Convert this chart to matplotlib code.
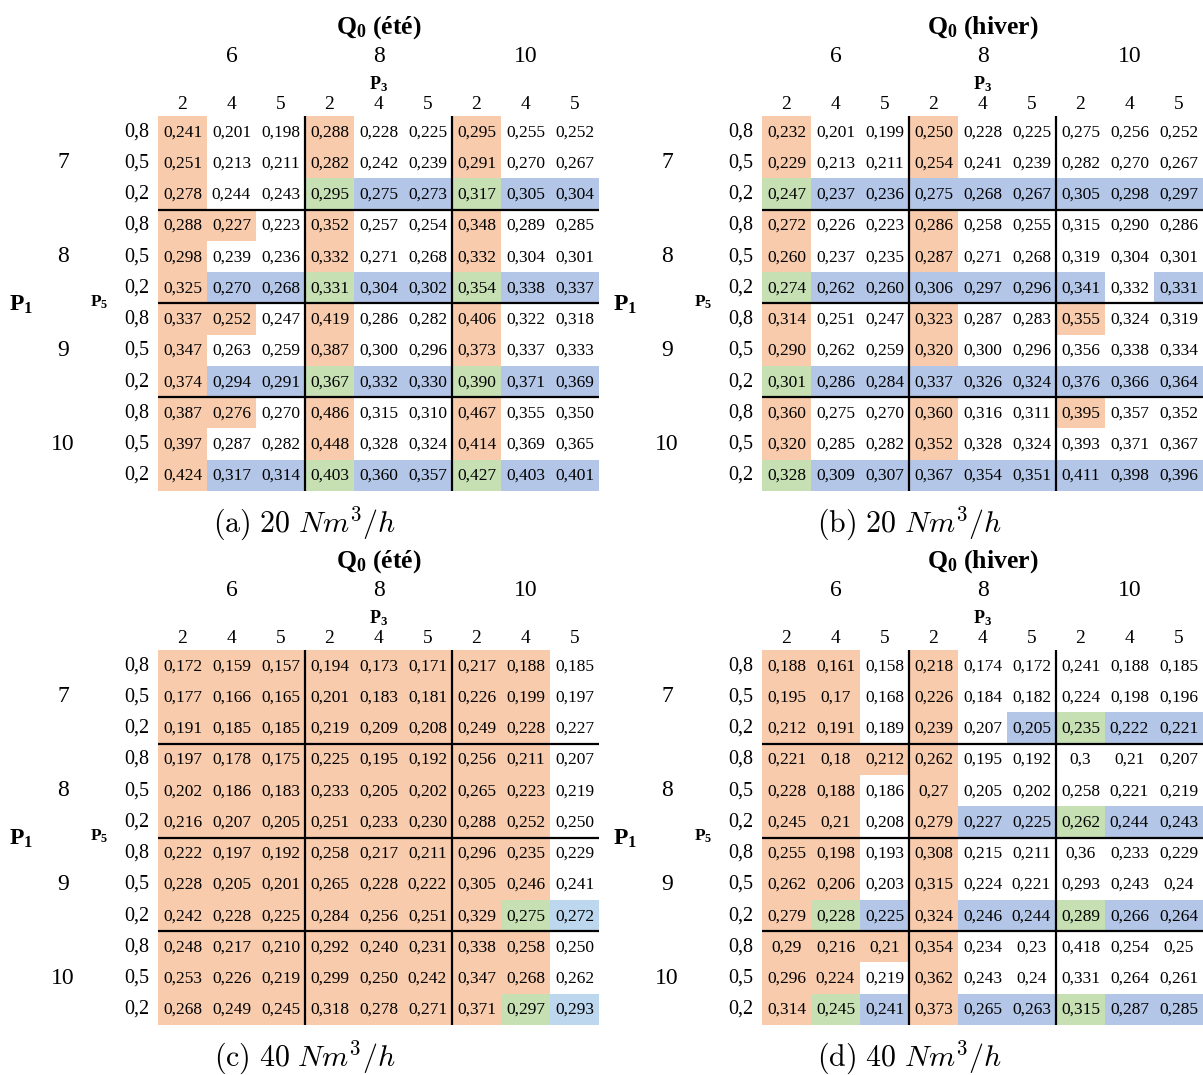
import matplotlib.pyplot as plt
from matplotlib.colors import ListedColormap

plt.rcParams['font.family'] = 'Liberation Serif'
plt.rcParams['mathtext.fontset'] = 'custom'
plt.rcParams['mathtext.rm'] = 'Liberation Serif:bold'
plt.rcParams['mathtext.it'] = 'Liberation Serif:italic:bold'
plt.rcParams['mathtext.bf'] = 'Liberation Serif:bold'

# table headers
q0_levels = ['6', '8', '10']
p3_levels = ['2', '4', '5', '2', '4', '5', '2', '4', '5']
p5_levels = ['0,8', '0,5', '0,2']
p1_levels = ['7', '8', '9', '10']

# cell values, rows = P1 x P5, cols = Q0 x P3
vals_a = [
    [0.241, 0.201, 0.198, 0.288, 0.228, 0.225, 0.295, 0.255, 0.252],
    [0.251, 0.213, 0.211, 0.282, 0.242, 0.239, 0.291, 0.270, 0.267],
    [0.278, 0.244, 0.243, 0.295, 0.275, 0.273, 0.317, 0.305, 0.304],
    [0.288, 0.227, 0.223, 0.352, 0.257, 0.254, 0.348, 0.289, 0.285],
    [0.298, 0.239, 0.236, 0.332, 0.271, 0.268, 0.332, 0.304, 0.301],
    [0.325, 0.270, 0.268, 0.331, 0.304, 0.302, 0.354, 0.338, 0.337],
    [0.337, 0.252, 0.247, 0.419, 0.286, 0.282, 0.406, 0.322, 0.318],
    [0.347, 0.263, 0.259, 0.387, 0.300, 0.296, 0.373, 0.337, 0.333],
    [0.374, 0.294, 0.291, 0.367, 0.332, 0.330, 0.390, 0.371, 0.369],
    [0.387, 0.276, 0.270, 0.486, 0.315, 0.310, 0.467, 0.355, 0.350],
    [0.397, 0.287, 0.282, 0.448, 0.328, 0.324, 0.414, 0.369, 0.365],
    [0.424, 0.317, 0.314, 0.403, 0.360, 0.357, 0.427, 0.403, 0.401],
]
vals_b = [
    [0.232, 0.201, 0.199, 0.250, 0.228, 0.225, 0.275, 0.256, 0.252],
    [0.229, 0.213, 0.211, 0.254, 0.241, 0.239, 0.282, 0.270, 0.267],
    [0.247, 0.237, 0.236, 0.275, 0.268, 0.267, 0.305, 0.298, 0.297],
    [0.272, 0.226, 0.223, 0.286, 0.258, 0.255, 0.315, 0.290, 0.286],
    [0.260, 0.237, 0.235, 0.287, 0.271, 0.268, 0.319, 0.304, 0.301],
    [0.274, 0.262, 0.260, 0.306, 0.297, 0.296, 0.341, 0.332, 0.331],
    [0.314, 0.251, 0.247, 0.323, 0.287, 0.283, 0.355, 0.324, 0.319],
    [0.290, 0.262, 0.259, 0.320, 0.300, 0.296, 0.356, 0.338, 0.334],
    [0.301, 0.286, 0.284, 0.337, 0.326, 0.324, 0.376, 0.366, 0.364],
    [0.360, 0.275, 0.270, 0.360, 0.316, 0.311, 0.395, 0.357, 0.352],
    [0.320, 0.285, 0.282, 0.352, 0.328, 0.324, 0.393, 0.371, 0.367],
    [0.328, 0.309, 0.307, 0.367, 0.354, 0.351, 0.411, 0.398, 0.396],
]
vals_c = [
    [0.172, 0.159, 0.157, 0.194, 0.173, 0.171, 0.217, 0.188, 0.185],
    [0.177, 0.166, 0.165, 0.201, 0.183, 0.181, 0.226, 0.199, 0.197],
    [0.191, 0.185, 0.185, 0.219, 0.209, 0.208, 0.249, 0.228, 0.227],
    [0.197, 0.178, 0.175, 0.225, 0.195, 0.192, 0.256, 0.211, 0.207],
    [0.202, 0.186, 0.183, 0.233, 0.205, 0.202, 0.265, 0.223, 0.219],
    [0.216, 0.207, 0.205, 0.251, 0.233, 0.230, 0.288, 0.252, 0.250],
    [0.222, 0.197, 0.192, 0.258, 0.217, 0.211, 0.296, 0.235, 0.229],
    [0.228, 0.205, 0.201, 0.265, 0.228, 0.222, 0.305, 0.246, 0.241],
    [0.242, 0.228, 0.225, 0.284, 0.256, 0.251, 0.329, 0.275, 0.272],
    [0.248, 0.217, 0.210, 0.292, 0.240, 0.231, 0.338, 0.258, 0.250],
    [0.253, 0.226, 0.219, 0.299, 0.250, 0.242, 0.347, 0.268, 0.262],
    [0.268, 0.249, 0.245, 0.318, 0.278, 0.271, 0.371, 0.297, 0.293],
]
vals_d = [
    [0.188, 0.161, 0.158, 0.218, 0.174, 0.172, 0.241, 0.188, 0.185],
    [0.195, 0.17, 0.168, 0.226, 0.184, 0.182, 0.224, 0.198, 0.196],
    [0.212, 0.191, 0.189, 0.239, 0.207, 0.205, 0.235, 0.222, 0.221],
    [0.221, 0.18, 0.212, 0.262, 0.195, 0.192, 0.3, 0.21, 0.207],
    [0.228, 0.188, 0.186, 0.27, 0.205, 0.202, 0.258, 0.221, 0.219],
    [0.245, 0.21, 0.208, 0.279, 0.227, 0.225, 0.262, 0.244, 0.243],
    [0.255, 0.198, 0.193, 0.308, 0.215, 0.211, 0.36, 0.233, 0.229],
    [0.262, 0.206, 0.203, 0.315, 0.224, 0.221, 0.293, 0.243, 0.24],
    [0.279, 0.228, 0.225, 0.324, 0.246, 0.244, 0.289, 0.266, 0.264],
    [0.29, 0.216, 0.21, 0.354, 0.234, 0.23, 0.418, 0.254, 0.25],
    [0.296, 0.224, 0.219, 0.362, 0.243, 0.24, 0.331, 0.264, 0.261],
    [0.314, 0.245, 0.241, 0.373, 0.265, 0.263, 0.315, 0.287, 0.285],
]

# highlight class: 0 none, 1 orange, 2 blue, 3 green, 4 light blue
cls_a = [
    [1, 0, 0, 1, 0, 0, 1, 0, 0],
    [1, 0, 0, 1, 0, 0, 1, 0, 0],
    [1, 0, 0, 3, 2, 2, 3, 2, 2],
    [1, 1, 0, 1, 0, 0, 1, 0, 0],
    [1, 0, 0, 1, 0, 0, 1, 0, 0],
    [1, 2, 2, 3, 2, 2, 3, 2, 2],
    [1, 1, 0, 1, 0, 0, 1, 0, 0],
    [1, 0, 0, 1, 0, 0, 1, 0, 0],
    [1, 2, 2, 3, 2, 2, 3, 2, 2],
    [1, 1, 0, 1, 0, 0, 1, 0, 0],
    [1, 0, 0, 1, 0, 0, 1, 0, 0],
    [1, 2, 2, 3, 2, 2, 3, 2, 2],
]
cls_b = [
    [1, 0, 0, 1, 0, 0, 0, 0, 0],
    [1, 0, 0, 1, 0, 0, 0, 0, 0],
    [3, 2, 2, 2, 2, 2, 2, 2, 2],
    [1, 0, 0, 1, 0, 0, 0, 0, 0],
    [1, 0, 0, 1, 0, 0, 0, 0, 0],
    [3, 2, 2, 2, 2, 2, 2, 0, 2],
    [1, 0, 0, 1, 0, 0, 1, 0, 0],
    [1, 0, 0, 1, 0, 0, 0, 0, 0],
    [3, 2, 2, 2, 2, 2, 2, 2, 2],
    [1, 0, 0, 1, 0, 0, 1, 0, 0],
    [1, 0, 0, 1, 0, 0, 0, 0, 0],
    [3, 2, 2, 2, 2, 2, 2, 2, 2],
]
cls_c = [
    [1, 1, 1, 1, 1, 1, 1, 1, 0],
    [1, 1, 1, 1, 1, 1, 1, 1, 0],
    [1, 1, 1, 1, 1, 1, 1, 1, 0],
    [1, 1, 1, 1, 1, 1, 1, 1, 0],
    [1, 1, 1, 1, 1, 1, 1, 1, 0],
    [1, 1, 1, 1, 1, 1, 1, 1, 0],
    [1, 1, 1, 1, 1, 1, 1, 1, 0],
    [1, 1, 1, 1, 1, 1, 1, 1, 0],
    [1, 1, 1, 1, 1, 1, 1, 3, 4],
    [1, 1, 1, 1, 1, 1, 1, 1, 0],
    [1, 1, 1, 1, 1, 1, 1, 1, 0],
    [1, 1, 1, 1, 1, 1, 1, 3, 4],
]
cls_d = [
    [1, 1, 0, 1, 0, 0, 0, 0, 0],
    [1, 1, 0, 1, 0, 0, 0, 0, 0],
    [1, 1, 0, 1, 0, 2, 3, 2, 2],
    [1, 1, 1, 1, 0, 0, 0, 0, 0],
    [1, 1, 0, 1, 0, 0, 0, 0, 0],
    [1, 1, 0, 1, 2, 2, 3, 2, 2],
    [1, 1, 0, 1, 0, 0, 0, 0, 0],
    [1, 1, 0, 1, 0, 0, 0, 0, 0],
    [1, 3, 2, 1, 2, 2, 3, 2, 2],
    [1, 1, 1, 1, 0, 0, 0, 0, 0],
    [1, 1, 0, 1, 0, 0, 0, 0, 0],
    [1, 3, 2, 1, 2, 2, 3, 2, 2],
]

fills = ListedColormap(['white', '#F8CBAD', '#B4C6E7', '#C6E0B4', '#BDD7EE'])

W, H = 1203, 1075
fig = plt.figure(figsize=(W / 100, H / 100), dpi=100)

panels = [
    (vals_a, cls_a, 'été', r'$\mathrm{(a)\ 20}\ Nm^3/h$', '{:.3f}', 158, 116),
    (vals_b, cls_b, 'hiver', r'$\mathrm{(b)\ 20}\ Nm^3/h$', '{:.3f}', 762, 116),
    (vals_c, cls_c, 'été', r'$\mathrm{(c)\ 40}\ Nm^3/h$', '{:.3f}', 158, 650),
    (vals_d, cls_d, 'hiver', r'$\mathrm{(d)\ 40}\ Nm^3/h$', '{:g}', 762, 650),
]

for vals, cls, season, caption, fmt, left, top in panels:
    ax = fig.add_axes([left / W, 1 - (top + 375) / H, 441 / W, 375 / H])
    ax.imshow(cls, cmap=fills, vmin=-0.5, vmax=4.5, aspect='auto',
              interpolation='nearest')
    ax.set_axis_off()

    for i, row in enumerate(vals):
        for j, v in enumerate(row):
            ax.text(j, i + 0.02, fmt.format(v).replace('.', ','), ha='center',
                    va='center', fontsize=12.5)

    ax.vlines([2.5, 5.5], -0.5, 11.5, color='black', lw=1.6, clip_on=False)
    ax.hlines([2.5, 5.5, 8.5], -0.5, 8.5, color='black', lw=1.6, clip_on=False)

    # column headers
    ax.text(4, -3.33, r'$\mathrm{Q_0}$ (' + season + ')', ha='center',
            va='center', fontsize=18.5, fontweight='bold')
    for k, q in enumerate(q0_levels):
        ax.text(1 + 3 * k, -2.4, q, ha='center', va='center', fontsize=17)
    ax.text(4, -1.53, r'$\mathrm{P_3}$', ha='center', va='center', fontsize=13)
    for j, p in enumerate(p3_levels):
        ax.text(j, -0.86, p, ha='center', va='center', fontsize=14)

    # row headers
    for i in range(12):
        ax.text(-0.93, i, p5_levels[i % 3], ha='center', va='center', fontsize=14.5)
    for k, p in enumerate(p1_levels):
        ax.text(-2.44, 1 + 3 * k, p, ha='center', va='center', fontsize=17)
    ax.text(-3.29, 5.55, r'$\mathrm{P_1}$', ha='center', va='center', fontsize=17)
    ax.text(-1.71, 5.45, r'$\mathrm{P_5}$', ha='center', va='center', fontsize=12.5)

    ax.text(2.5, 12.55, caption, ha='center', va='center', fontsize=21.5,
            math_fontfamily='cm')

fig.savefig('out.png', dpi=100)
